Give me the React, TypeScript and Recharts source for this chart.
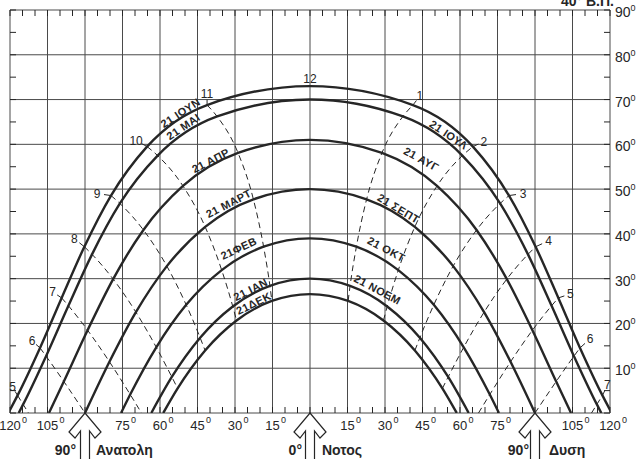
import React from 'react';
import { LineChart, Line, XAxis, YAxis, ReferenceLine, ReferenceDot, LabelList } from 'recharts';

const FONT = '"Liberation Sans", Arial, Helvetica, sans-serif';
const INK = '#262626';
const GRID = '#4a4a4a';

// solar hours 5..19
const HOURS = [5, 6, 7, 8, 9, 10, 11, 12, 13, 14, 15, 16, 17, 18, 19];

// azimuth from south (east < 0) and altitude of the sun at each hour, null = below horizon
const AZ_JUN = [-116.97, -108.0, -99.34, -90.25, -79.6, -65.17, -41.17, 0, 41.17, 65.17, 79.6, 90.25, 99.34, 108.0, 116.97];
const ALT_JUN = [3.93, 14.54, 25.7, 37.13, 48.56, 59.5, 68.78, 73, 68.78, 59.5, 48.56, 37.13, 25.7, 14.54, 3.93];

const AZ_MAY = [-114.75, -105.58, -96.64, -87.19, -76.04, -60.94, -37.15, 0, 37.15, 60.94, 76.04, 87.19, 96.64, 105.58, 114.75];
const ALT_MAY = [1.92, 12.7, 23.96, 35.43, 46.79, 57.48, 66.22, 70, 66.22, 57.48, 46.79, 35.43, 23.96, 12.7, 1.92];

const AZ_APR = [null, -98.47, -88.97, -78.74, -66.63, -50.81, -28.78, 0, 28.78, 50.81, 66.63, 78.74, 88.97, 98.47, null];
const ALT_APR = [null, 7.04, 18.49, 29.91, 40.87, 50.7, 58.08, 61, 58.08, 50.7, 40.87, 29.91, 18.49, 7.04, null];

const AZ_MAR = [null, null, -80.22, -69.64, -57.26, -41.93, -22.64, 0, 22.64, 41.93, 57.26, 69.64, 80.22, null, null];
const ALT_MAR = [null, null, 11.44, 22.52, 32.8, 41.56, 47.72, 50, 47.72, 41.56, 32.8, 22.52, 11.44, null, null];

const AZ_FEB = [null, null, -71.92, -61.49, -49.52, -35.32, -18.56, 0, 18.56, 35.32, 49.52, 61.49, 71.92, null, null];
const ALT_FEB = [null, null, 4.13, 14.68, 24.15, 31.91, 37.13, 39, 37.13, 31.91, 24.15, 14.68, 4.13, null, null];

const AZ_JAN = [null, null, null, -55.27, -43.95, -30.89, -16.03, 0, 16.03, 30.89, 43.95, 55.27, null, null, null];
const ALT_JAN = [null, null, null, 8.05, 16.81, 23.8, 28.39, 30, 28.39, 23.8, 16.81, 8.05, null, null, null];

const AZ_DEC = [null, null, null, -52.95, -41.95, -29.38, -15.25, 0, 15.25, 29.38, 41.95, 52.95, null, null, null];
const ALT_DEC = [null, null, null, 5.49, 13.95, 20.65, 25.02, 26.55, 25.02, 20.65, 13.95, 5.49, null, null, null];

const DATE_AZ = [AZ_JUN, AZ_MAY, AZ_APR, AZ_MAR, AZ_FEB, AZ_JAN, AZ_DEC];
const DATE_ALT = [ALT_JUN, ALT_MAY, ALT_APR, ALT_MAR, ALT_FEB, ALT_JAN, ALT_DEC];

// sunrise / sunset azimuth for each date
const SUNRISE_AZ = [120.67, 116.52, 104.42, 90, 75.58, 63.48, 58.7];

// where an hour line meets the horizon
const HORIZON_AZ = [-112.6, -90, -67.4, null, null, null, null, null, null, null, null, null, 67.4, 90, 112.6];

const X_MAJOR = [-120, -105, -90, -75, -60, -45, -30, -15, 0, 15, 30, 45, 60, 75, 90, 105, 120];
const Y_MAJOR = [0, 10, 20, 30, 40, 50, 60, 70, 80, 90];
const X_MINOR = Array.from({ length: 49 }, (_, i) => -120 + i * 5);
const Y_MINOR = Array.from({ length: 19 }, (_, i) => i * 5);

const DATE_LABELS = [
  { text: '21 ΙΟΥΝ', az: -51.2, alt: 66.5, angle: -33 },
  { text: '21 ΜΑΙ', az: -50, alt: 63.4, angle: -34 },
  { text: '21 ΑΠΡ', az: -39.2, alt: 55.8, angle: -27 },
  { text: '21 ΜΑΡΤ', az: -32, alt: 46.2, angle: -27 },
  { text: '21ΦΕΒ', az: -28, alt: 36.2, angle: -25 },
  { text: '21 ΙΑΝ', az: -23.2, alt: 27.0, angle: -27 },
  { text: '21ΔΕΚ', az: -22, alt: 23.9, angle: -26 },
  { text: '21 ΙΟΥΛ', az: 54.8, alt: 61.6, angle: 34 },
  { text: '21 ΑΥΓ', az: 44, alt: 56.1, angle: 29 },
  { text: '21 ΣΕΠΤ', az: 34.8, alt: 45.1, angle: 31 },
  { text: '21 ΟΚΤ', az: 30, alt: 36.0, angle: 28 },
  { text: '21 ΝΟΕΜ', az: 26.4, alt: 27.0, angle: 28 },
];

// label offset from the June point of each hour line (px)
const HOUR_LABEL_OFFSET: Record<string, [number, number]> = {
  '5a': [-5, -8], '6a': [-8, -7], '7a': [-9, -6], '8a': [-10, -8], '9a': [-14, -2], '10a': [-11, -6], '11a': [0, -11],
  '1p': [7, -9], '2p': [11, -5], '3p': [14, -2], '4p': [13, -6], '5p': [12, -4], '6p': [10, -9], '7p': [5, -10],
};

const ARROWS: Record<string, [string, string, number, number]> = {
  '-90': ['90°', 'Ανατολη', 9, 11],
  '0': ['0°', 'Νοτος', 8, 12],
  '90': ['90°', 'Δυση', 6, 14],
};

const dateCurve = (i: number) => {
  const pts = [{ az: -SUNRISE_AZ[i], alt: 0 }];
  HOURS.forEach((_, k) => {
    if (DATE_ALT[i][k] != null) pts.push({ az: DATE_AZ[i][k] as number, alt: DATE_ALT[i][k] as number });
  });
  pts.push({ az: SUNRISE_AZ[i], alt: 0 });
  return pts;
};

const hourTag = (h: number) => (h < 12 ? `${h}a` : `${h - 12}p`);

const hourLine = (k: number) => {
  const pts: { az: number; alt: number; tag?: string }[] = [];
  DATE_ALT.forEach((alts, i) => {
    if (alts[k] != null) pts.push({ az: DATE_AZ[i][k] as number, alt: alts[k] as number, tag: i === 0 ? hourTag(HOURS[k]) : undefined });
  });
  if (HORIZON_AZ[k] != null) pts.push({ az: HORIZON_AZ[k] as number, alt: 0 });
  return pts.sort((a, b) => a.az - b.az);
};

const BottomTick = (props: any) => {
  const { x, y, payload } = props;
  const v = payload.value;
  const arrow = ARROWS[String(v)];
  const n = String(Math.abs(v));
  return (
    <g>
      <line x1={x} y1={y} x2={x} y2={y - 6} stroke={INK} strokeWidth={1} />
      {arrow ? (
        <g fontFamily={FONT}>
          <polygon
            points="0,0 16,19 10,25 4.5,18 4.5,52 -4.5,52 -4.5,18 -10,25 -16,19"
            transform={`translate(${x} ${y})`}
            fill="#fff"
            stroke={INK}
            strokeWidth={1.2}
          />
          <text x={x - arrow[2]} y={y + 42} textAnchor="end" fontSize={14} fontWeight="bold" fill={INK}>{arrow[0]}</text>
          <text x={x + arrow[3]} y={y + 42} textAnchor="start" fontSize={14} fontWeight="bold" fill={INK}>{arrow[1]}</text>
        </g>
      ) : v % 15 === 0 ? (
        <g fontFamily={FONT} fill={INK}>
          <text x={x} y={y + 17} textAnchor="middle" fontSize={13}>{n}</text>
          <text x={x + n.length * 3.7 + 1} y={y + 10} fontSize={9}>0</text>
        </g>
      ) : null}
    </g>
  );
};

const TopTick = (props: any) => {
  const { x, y, payload } = props;
  return (
    <g>
      <line x1={x} y1={y} x2={x} y2={y + 6} stroke={INK} strokeWidth={1} />
      {payload.value === 120 && (
        <text x={x + 4} y={y - 4} textAnchor="end" fontSize={14} fontWeight="bold" fontFamily={FONT} fill={INK}>40° Β.Π.</text>
      )}
    </g>
  );
};

const LeftTick = (props: any) => {
  const { x, y } = props;
  return <line x1={x} y1={y} x2={x + 6} y2={y} stroke={INK} strokeWidth={1} />;
};

const RightTick = (props: any) => {
  const { x, y, payload } = props;
  const v = payload.value;
  return (
    <g>
      <line x1={x} y1={y} x2={x - 6} y2={y} stroke={INK} strokeWidth={1} />
      {v % 10 === 0 && v > 0 && (
        <text x={x + 5} y={y + 7} fontSize={14} fontFamily={FONT} fill={INK}>
          {v}
          <tspan dy={-6} fontSize={9}>0</tspan>
        </text>
      )}
    </g>
  );
};

const renderHourLabel = (props: any) => {
  const { x, y, value } = props;
  if (!value) return null;
  const [dx, dy] = HOUR_LABEL_OFFSET[value];
  return (
    <g key={value}>
      <line x1={x} y1={y} x2={x + dx * 0.5} y2={y + dy * 0.5} stroke={INK} strokeWidth={1} />
      <text x={x + dx} y={y + dy} textAnchor="middle" dominantBaseline="central" fontSize={12} fontFamily={FONT} fill={INK}>
        {String(value).replace(/[ap]/, '')}
      </text>
    </g>
  );
};

export default function App() {
  return (
    <div style={{ position: 'absolute', left: 0, top: 0, width: 637, height: 459, overflow: 'hidden', background: '#fff' }}>
      <LineChart width={637} height={459} margin={{ top: 0, right: 0, bottom: 0, left: 0 }}>
        <XAxis xAxisId={0} type="number" dataKey="az" domain={[-120, 120]} allowDataOverflow ticks={X_MINOR} interval={0}
          height={46} axisLine={false} tickLine={false} tickSize={0} tickMargin={0} tick={BottomTick} />
        <XAxis xAxisId="top" orientation="top" type="number" dataKey="az" domain={[-120, 120]} allowDataOverflow ticks={X_MINOR} interval={0}
          height={10} axisLine={false} tickLine={false} tickSize={0} tickMargin={0} tick={TopTick} />
        <YAxis yAxisId={0} type="number" domain={[0, 90]} allowDataOverflow ticks={Y_MINOR} interval={0}
          width={10} axisLine={false} tickLine={false} tickSize={0} tickMargin={0} tick={LeftTick} />
        <YAxis yAxisId="right" orientation="right" type="number" domain={[0, 90]} allowDataOverflow ticks={Y_MINOR} interval={0}
          width={27} axisLine={false} tickLine={false} tickSize={0} tickMargin={0} tick={RightTick} />

        {X_MAJOR.map((v) => (
          <ReferenceLine key={`gx${v}`} x={v} stroke={GRID} strokeWidth={1} />
        ))}
        {Y_MAJOR.map((v) => (
          <ReferenceLine key={`gy${v}`} y={v} stroke={GRID} strokeWidth={1} />
        ))}

        {HOURS.map((h, k) =>
          h === 12 ? null : (
            <Line key={`h${h}`} data={hourLine(k)} dataKey="alt" type="monotone" stroke={INK} strokeWidth={1}
              strokeDasharray="6 4" dot={false} isAnimationActive={false}>
              <LabelList dataKey="tag" content={renderHourLabel} />
            </Line>
          )
        )}

        {DATE_ALT.map((_, i) => (
          <Line key={`d${i}`} data={dateCurve(i)} dataKey="alt" type="monotone" stroke={INK} strokeWidth={2.4}
            dot={false} isAnimationActive={false} />
        ))}

        {DATE_LABELS.map((l) => (
          <ReferenceDot key={l.text} x={l.az} y={l.alt} r={1} ifOverflow="visible"
            shape={(p: any) => (
              <text x={p.cx} y={p.cy} dy={-3} transform={`rotate(${l.angle} ${p.cx} ${p.cy})`} textAnchor="middle"
                dominantBaseline="central" fontSize={11} fontWeight="bold" fontFamily={FONT} fill={INK} letterSpacing={0.4}>
                {l.text}
              </text>
            )}
          />
        ))}

        <ReferenceDot x={0} y={ALT_JUN[7]} r={1} ifOverflow="visible"
          shape={(p: any) => (
            <text x={p.cx} y={p.cy - 7} textAnchor="middle" dominantBaseline="central" fontSize={12} fontFamily={FONT} fill={INK}>12</text>
          )}
        />
      </LineChart>
    </div>
  );
}
